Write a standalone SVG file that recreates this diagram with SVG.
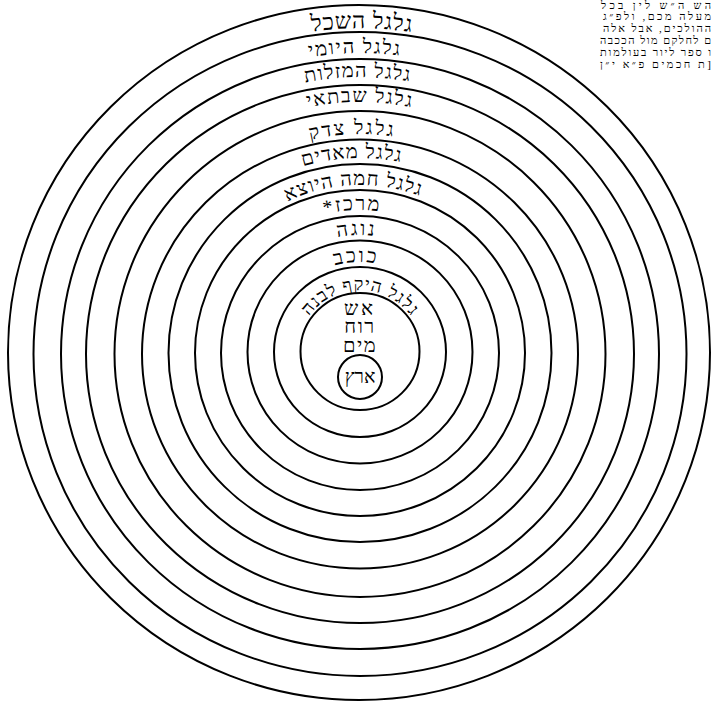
<svg xmlns="http://www.w3.org/2000/svg" width="713" height="704" viewBox="0 0 713 704">
<style>
.ring{fill:none;stroke:#000;stroke-width:2}
.lbl{font-family:"Liberation Serif","DejaVu Serif","DejaVu Sans",serif;font-size:20px;fill:#000}
.note{font-family:"Liberation Serif","DejaVu Sans",serif;font-size:11px;fill:#000}
</style>
<defs>
<path id="p1" d="M35 353A325 325 0 0 1 685 353"/>
<path id="p2" d="M60 353A300 300 0 0 1 660 353"/>
<path id="p3" d="M84 353A276 276 0 0 1 636 353"/>
<path id="p4" d="M109 353A251 251 0 0 1 611 353"/>
<path id="p5" d="M141 353A219 219 0 0 1 579 353"/>
<path id="p6" d="M165 353A195 195 0 0 1 555 353"/>
<path id="p7" d="M192 353A168 168 0 0 1 528 353"/>
<path id="p8" d="M217 353A143 143 0 0 1 503 353"/>
<path id="p9" d="M242 353A118 118 0 0 1 478 353"/>
<path id="p10" d="M269 353A91 91 0 0 1 451 353"/>
<path id="p11" d="M297 353A63 63 0 0 1 423 353"/>
</defs>
<rect width="713" height="704" fill="#fff"/>
<g id="sphere-intellect"><ellipse class="ring" cx="359" cy="352.5" rx="351" ry="347.5"/>
<text class="lbl" style="font-size:23px;letter-spacing:0.7px" direction="rtl"><textPath href="#p1" startOffset="512" text-anchor="middle">גלגל השכל</textPath></text></g>
<g id="sphere-daily"><ellipse class="ring" cx="360" cy="354" rx="326.5" ry="322"/>
<text class="lbl" style="letter-spacing:1.6px" direction="rtl"><textPath href="#p2" startOffset="466" text-anchor="middle">גלגל היומי</textPath></text></g>
<g id="sphere-zodiac"><ellipse class="ring" cx="360" cy="354" rx="299" ry="295"/>
<text class="lbl" style="letter-spacing:1.2px" direction="rtl"><textPath href="#p3" startOffset="431" text-anchor="middle">גלגל המזלות</textPath></text></g>
<g id="sphere-saturn"><ellipse class="ring" cx="360" cy="354" rx="274" ry="269"/>
<text class="lbl" style="letter-spacing:1.5px" direction="rtl"><textPath href="#p4" startOffset="394" text-anchor="middle">גלגל שבתאי</textPath></text></g>
<g id="sphere-jupiter"><ellipse class="ring" cx="360" cy="354" rx="245.5" ry="243"/>
<text class="lbl" style="letter-spacing:2.2px" direction="rtl"><textPath href="#p5" startOffset="336" text-anchor="middle">גלגל צדק</textPath></text></g>
<g id="sphere-mars"><ellipse class="ring" cx="360" cy="354" rx="218" ry="214.5"/>
<text class="lbl" style="letter-spacing:1.1px" direction="rtl"><textPath href="#p6" startOffset="298" text-anchor="middle">גלגל מאדים</textPath></text></g>
<g id="sphere-sun"><ellipse class="ring" cx="360" cy="353" rx="191.5" ry="189"/>
<text class="lbl" style="letter-spacing:1.1px" direction="rtl"><textPath href="#p7" startOffset="257" text-anchor="middle">גלגל חמה היוצא</textPath></text></g>
<g id="sphere-center"><ellipse class="ring" cx="360" cy="353" rx="165" ry="163"/>
<text class="lbl" style="letter-spacing:2px" direction="rtl"><textPath href="#p8" startOffset="217" text-anchor="middle">מרכז*</textPath></text></g>
<g id="sphere-venus"><ellipse class="ring" cx="360" cy="353" rx="139" ry="137"/>
<text class="lbl" style="letter-spacing:2.4px" direction="rtl"><textPath href="#p9" startOffset="182" text-anchor="middle">נוגה</textPath></text></g>
<g id="sphere-mercury"><ellipse class="ring" cx="360" cy="352" rx="112.5" ry="111.5"/>
<text class="lbl" style="letter-spacing:2.3px" direction="rtl"><textPath href="#p10" startOffset="139" text-anchor="middle">כוכב</textPath></text></g>
<g id="sphere-moon"><ellipse class="ring" cx="360" cy="352" rx="86" ry="85"/>
<text class="lbl" style="font-size:18px;letter-spacing:1px" direction="rtl"><textPath href="#p11" startOffset="99" text-anchor="middle">גלגל היקף לבנה</textPath></text></g>
<g id="elements"><ellipse class="ring" cx="360" cy="351.5" rx="59.5" ry="58.5"/>
<text class="lbl" style="letter-spacing:3px" x="360" y="315" text-anchor="middle" direction="rtl">אש</text>
<text class="lbl" style="letter-spacing:1.5px" x="360" y="333" text-anchor="middle" direction="rtl">רוח</text>
<text class="lbl" style="letter-spacing:1.5px" x="360" y="352" text-anchor="middle" direction="rtl">מים</text></g>
<g id="earth"><circle class="ring" cx="360" cy="377" r="22"/>
<text class="lbl" style="font-size:19px" x="360" y="383" text-anchor="middle" direction="rtl">ארץ</text></g>
<g id="note">
<text class="note" x="711" y="9" text-anchor="end" textLength="110" lengthAdjust="spacing">הש  ה״ש לין בכל</text>
<text class="note" x="711" y="20" text-anchor="end" textLength="108" lengthAdjust="spacing">מעלה מכם, ולפ״ג</text>
<text class="note" x="711" y="32" text-anchor="end" textLength="108" lengthAdjust="spacing">ההולכים, אבל אלה</text>
<text class="note" x="711" y="44" text-anchor="end" textLength="111" lengthAdjust="spacing">ם לחלקם מול הככבה</text>
<text class="note" x="711" y="56" text-anchor="end" textLength="111" lengthAdjust="spacing">ו ספר ליור בעולמות</text>
<text class="note" x="711" y="68" text-anchor="end" textLength="111" lengthAdjust="spacing">ת חכמים פ״א י״ן]</text>
</g>
</svg>
